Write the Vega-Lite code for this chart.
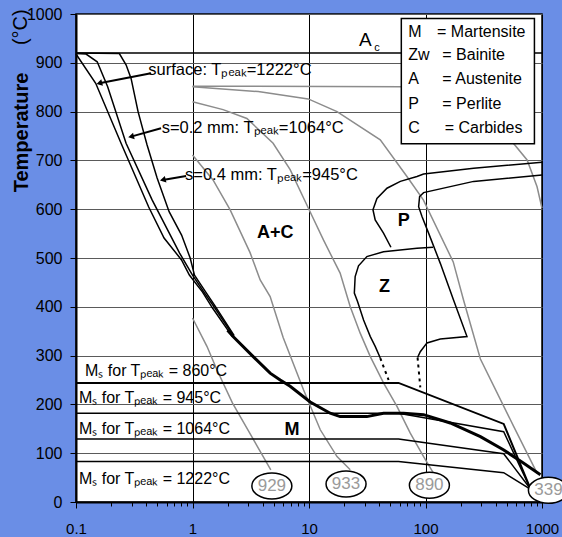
{
  "$schema": "https://vega.github.io/schema/vega-lite/v6.json",
  "width": 466,
  "height": 488,
  "autosize": {"type": "none"},
  "padding": {"left": 76, "top": 14, "right": 20, "bottom": 35},
  "background": "#6a8ee6",
  "config": {
    "font": "Liberation Sans",
    "view": {"fill": "white", "stroke": "black", "strokeWidth": 1.5},
    "axis": {"labelFont": "Liberation Sans", "titleFont": "Liberation Sans", "labelColor": "black", "tickColor": "black", "domainColor": "black"}
  },
  "datasets": {
    "gray": [
      {"id": "g1", "o": 1, "x": 1, "T": 377}, {"id": "g1", "o": 2, "x": 1.33, "T": 319}, {"id": "g1", "o": 3, "x": 1.62, "T": 271}, {"id": "g1", "o": 4, "x": 2.2, "T": 203}, {"id": "g1", "o": 5, "x": 3.6, "T": 114}, {"id": "g1", "o": 6, "x": 4.7, "T": 66},
      {"id": "g2", "o": 1, "x": 1, "T": 711}, {"id": "g2", "o": 2, "x": 1.5, "T": 660}, {"id": "g2", "o": 3, "x": 2.1, "T": 599}, {"id": "g2", "o": 4, "x": 3.12, "T": 511}, {"id": "g2", "o": 5, "x": 3.81, "T": 455}, {"id": "g2", "o": 6, "x": 4.64, "T": 421}, {"id": "g2", "o": 7, "x": 6.0, "T": 337}, {"id": "g2", "o": 8, "x": 8.97, "T": 230}, {"id": "g2", "o": 9, "x": 12.5, "T": 148}, {"id": "g2", "o": 10, "x": 17.4, "T": 93}, {"id": "g2", "o": 11, "x": 22.6, "T": 66},
      {"id": "g3", "o": 1, "x": 1, "T": 820}, {"id": "g3", "o": 2, "x": 1.83, "T": 804}, {"id": "g3", "o": 3, "x": 2.93, "T": 786}, {"id": "g3", "o": 4, "x": 4.92, "T": 735}, {"id": "g3", "o": 5, "x": 6.89, "T": 681}, {"id": "g3", "o": 6, "x": 9.84, "T": 603}, {"id": "g3", "o": 7, "x": 13.3, "T": 537}, {"id": "g3", "o": 8, "x": 18.5, "T": 469}, {"id": "g3", "o": 9, "x": 22.6, "T": 400}, {"id": "g3", "o": 10, "x": 27.5, "T": 346}, {"id": "g3", "o": 11, "x": 33.6, "T": 298}, {"id": "g3", "o": 12, "x": 43.6, "T": 244}, {"id": "g3", "o": 13, "x": 56.9, "T": 196}, {"id": "g3", "o": 14, "x": 74, "T": 141}, {"id": "g3", "o": 15, "x": 96.3, "T": 93}, {"id": "g3", "o": 16, "x": 117, "T": 59},
      {"id": "g4", "o": 1, "x": 1, "T": 851}, {"id": "g4", "o": 2, "x": 3.66, "T": 841}, {"id": "g4", "o": 3, "x": 9.84, "T": 826}, {"id": "g4", "o": 4, "x": 17.4, "T": 800}, {"id": "g4", "o": 5, "x": 40.9, "T": 742}, {"id": "g4", "o": 6, "x": 69.3, "T": 667}, {"id": "g4", "o": 7, "x": 95.8, "T": 619}, {"id": "g4", "o": 8, "x": 173, "T": 492}, {"id": "g4", "o": 9, "x": 212, "T": 414}, {"id": "g4", "o": 10, "x": 296, "T": 293}, {"id": "g4", "o": 11, "x": 571, "T": 155}, {"id": "g4", "o": 12, "x": 907, "T": 59},
      {"id": "g5", "o": 1, "x": 1, "T": 852}, {"id": "g5", "o": 2, "x": 63, "T": 851}, {"id": "g5", "o": 3, "x": 150, "T": 845}, {"id": "g5", "o": 4, "x": 300, "T": 820}, {"id": "g5", "o": 5, "x": 450, "T": 780}, {"id": "g5", "o": 6, "x": 568, "T": 735}, {"id": "g5", "o": 7, "x": 745, "T": 701}, {"id": "g5", "o": 8, "x": 907, "T": 646}, {"id": "g5", "o": 9, "x": 1000, "T": 602}
    ],
    "cct": [
      {"id": "c1", "o": 1, "x": 0.1, "T": 918}, {"id": "c1", "o": 2, "x": 0.1476, "T": 858}, {"id": "c1", "o": 3, "x": 0.2437, "T": 735}, {"id": "c1", "o": 4, "x": 0.4197, "T": 605}, {"id": "c1", "o": 5, "x": 0.57, "T": 541}, {"id": "c1", "o": 6, "x": 0.805, "T": 496}, {"id": "c1", "o": 7, "x": 0.94, "T": 465}, {"id": "c1", "o": 8, "x": 1.22, "T": 430}, {"id": "c1", "o": 9, "x": 1.48, "T": 398}, {"id": "c1", "o": 10, "x": 2.2, "T": 339},
      {"id": "c2", "o": 1, "x": 0.1, "T": 919}, {"id": "c2", "o": 2, "x": 0.122, "T": 918}, {"id": "c2", "o": 3, "x": 0.152, "T": 902}, {"id": "c2", "o": 4, "x": 0.187, "T": 851}, {"id": "c2", "o": 5, "x": 0.269, "T": 735}, {"id": "c2", "o": 6, "x": 0.45, "T": 619}, {"id": "c2", "o": 7, "x": 0.775, "T": 510}, {"id": "c2", "o": 8, "x": 1.0, "T": 465}, {"id": "c2", "o": 9, "x": 1.27, "T": 428}, {"id": "c2", "o": 10, "x": 1.53, "T": 400}, {"id": "c2", "o": 11, "x": 2.25, "T": 340},
      {"id": "c3", "o": 1, "x": 0.1, "T": 920}, {"id": "c3", "o": 2, "x": 0.2355, "T": 919}, {"id": "c3", "o": 3, "x": 0.269, "T": 896}, {"id": "c3", "o": 4, "x": 0.297, "T": 868}, {"id": "c3", "o": 5, "x": 0.341, "T": 800}, {"id": "c3", "o": 6, "x": 0.407, "T": 732}, {"id": "c3", "o": 7, "x": 0.497, "T": 664}, {"id": "c3", "o": 8, "x": 0.63, "T": 595}, {"id": "c3", "o": 9, "x": 0.806, "T": 547}, {"id": "c3", "o": 10, "x": 0.955, "T": 500}, {"id": "c3", "o": 11, "x": 1.04, "T": 465}, {"id": "c3", "o": 12, "x": 1.3, "T": 430}, {"id": "c3", "o": 13, "x": 1.56, "T": 402}, {"id": "c3", "o": 14, "x": 2.28, "T": 341},
      {"id": "ps", "o": 1, "x": 1000, "T": 696}, {"id": "ps", "o": 2, "x": 259, "T": 684}, {"id": "ps", "o": 3, "x": 96.3, "T": 672}, {"id": "ps", "o": 4, "x": 84.5, "T": 667}, {"id": "ps", "o": 5, "x": 60.8, "T": 657}, {"id": "ps", "o": 6, "x": 46.7, "T": 643}, {"id": "ps", "o": 7, "x": 38.3, "T": 622}, {"id": "ps", "o": 8, "x": 35.4, "T": 599}, {"id": "ps", "o": 9, "x": 37.0, "T": 578}, {"id": "ps", "o": 10, "x": 43.6, "T": 551}, {"id": "ps", "o": 11, "x": 50.5, "T": 522},
      {"id": "pe", "o": 1, "x": 1000, "T": 670}, {"id": "pe", "o": 2, "x": 259, "T": 657}, {"id": "pe", "o": 3, "x": 96.3, "T": 634}, {"id": "pe", "o": 4, "x": 89, "T": 626}, {"id": "pe", "o": 5, "x": 87.3, "T": 605}, {"id": "pe", "o": 6, "x": 93.3, "T": 585}, {"id": "pe", "o": 7, "x": 106.3, "T": 551}, {"id": "pe", "o": 8, "x": 134, "T": 489}, {"id": "pe", "o": 9, "x": 174, "T": 414}, {"id": "pe", "o": 10, "x": 227, "T": 339}, {"id": "pe", "o": 11, "x": 134, "T": 334}, {"id": "pe", "o": 12, "x": 103, "T": 326}, {"id": "pe", "o": 13, "x": 90.2, "T": 308}, {"id": "pe", "o": 14, "x": 85.5, "T": 296},
      {"id": "zs", "o": 1, "x": 116, "T": 522}, {"id": "zs", "o": 2, "x": 84.5, "T": 520}, {"id": "zs", "o": 3, "x": 43.6, "T": 513}, {"id": "zs", "o": 4, "x": 31.4, "T": 503}, {"id": "zs", "o": 5, "x": 26.6, "T": 484}, {"id": "zs", "o": 6, "x": 24.9, "T": 462}, {"id": "zs", "o": 7, "x": 24.5, "T": 428}, {"id": "zs", "o": 8, "x": 26.1, "T": 411}, {"id": "zs", "o": 9, "x": 29.4, "T": 373}, {"id": "zs", "o": 10, "x": 33.6, "T": 339}, {"id": "zs", "o": 11, "x": 37, "T": 319}, {"id": "zs", "o": 12, "x": 40.9, "T": 295},
      {"id": "m860", "o": 1, "x": 0.1, "T": 244}, {"id": "m860", "o": 2, "x": 58.7, "T": 244}, {"id": "m860", "o": 3, "x": 469, "T": 160}, {"id": "m860", "o": 4, "x": 800, "T": 26},
      {"id": "m945", "o": 1, "x": 0.1, "T": 182}, {"id": "m945", "o": 2, "x": 58.7, "T": 182}, {"id": "m945", "o": 3, "x": 469, "T": 144}, {"id": "m945", "o": 4, "x": 800, "T": 26},
      {"id": "m1064", "o": 1, "x": 0.1, "T": 129}, {"id": "m1064", "o": 2, "x": 58.7, "T": 129}, {"id": "m1064", "o": 3, "x": 469, "T": 99}, {"id": "m1064", "o": 4, "x": 800, "T": 26},
      {"id": "m1222", "o": 1, "x": 0.1, "T": 83}, {"id": "m1222", "o": 2, "x": 58.7, "T": 83}, {"id": "m1222", "o": 3, "x": 469, "T": 60}, {"id": "m1222", "o": 4, "x": 800, "T": 26},
      {"id": "ac", "o": 1, "x": 0.1, "T": 920}, {"id": "ac", "o": 2, "x": 1000, "T": 920}
    ],
    "tail": [
      {"o": 1, "x": 2.0, "T": 352}, {"o": 2, "x": 2.23, "T": 339}, {"o": 3, "x": 3.32, "T": 298}, {"o": 4, "x": 4.64, "T": 264}, {"o": 5, "x": 5.66, "T": 250}, {"o": 6, "x": 6.89, "T": 237}, {"o": 7, "x": 10.24, "T": 205}, {"o": 8, "x": 15.2, "T": 182}, {"o": 9, "x": 18.5, "T": 175}, {"o": 10, "x": 31.4, "T": 175}, {"o": 11, "x": 43.6, "T": 182}, {"o": 12, "x": 64.9, "T": 182}, {"o": 13, "x": 96.3, "T": 179}, {"o": 14, "x": 163, "T": 162}, {"o": 15, "x": 296, "T": 134}, {"o": 16, "x": 466, "T": 107}, {"o": 17, "x": 692, "T": 80}, {"o": 18, "x": 969, "T": 56}
    ],
    "dots": [
      {"id": "d1", "o": 1, "x": 40.9, "T": 295}, {"id": "d1", "o": 2, "x": 48.2, "T": 250},
      {"id": "d2", "o": 1, "x": 85.5, "T": 296}, {"id": "d2", "o": 2, "x": 90.2, "T": 235}
    ],
    "box": [{"x": 62, "T": 991, "x2": 861, "T2": 734}],
    "legend": [
      {"x": 71.2, "T": 964, "text": "M"}, {"x": 71.2, "T": 916, "text": "Zw"}, {"x": 71.2, "T": 866, "text": "A"}, {"x": 71.2, "T": 816, "text": "P"}, {"x": 71.2, "T": 766, "text": "C"},
      {"x": 125.6, "T": 964, "text": "= Martensite"}, {"x": 139.4, "T": 916, "text": "= Bainite"}, {"x": 139.4, "T": 866, "text": "= Austenite"}, {"x": 139.4, "T": 816, "text": "= Perlite"}, {"x": 146, "T": 766, "text": "= Carbides"}
    ],
    "regions": [
      {"x": 5.12, "T": 551, "text": "A+C"}, {"x": 64.9, "T": 575, "text": "P"}, {"x": 44.5, "T": 441, "text": "Z"}, {"x": 7.13, "T": 148, "text": "M"}
    ],
    "notes": [
      {"x": 0.1195, "T": 267.5, "text": "Mₛ for Tₚₑₐₖ = 860°C"},
      {"x": 0.106, "T": 213, "text": "Mₛ for Tₚₑₐₖ = 945°C"},
      {"x": 0.106, "T": 149.5, "text": "Mₛ for Tₚₑₐₖ = 1064°C"},
      {"x": 0.106, "T": 47, "text": "Mₛ for Tₚₑₐₖ = 1222°C"}
    ],
    "arrowNotes": [
      {"x": 0.418, "T": 885.5, "text": "surface: Tₚₑₐₖ=1222°C"},
      {"x": 0.544, "T": 766, "text": "s=0.2 mm: Tₚₑₐₖ=1064°C"},
      {"x": 0.863, "T": 670, "text": "s=0.4 mm: Tₚₑₐₖ=945°C"}
    ],
    "arrows": [
      {"x": 0.4406, "T": 878.6, "x2": 0.1585, "T2": 858},
      {"x": 0.537, "T": 766, "x2": 0.297, "T2": 748.7},
      {"x": 0.881, "T": 668, "x2": 0.556, "T2": 660}
    ],
    "heads": [
      {"x": 0.1585, "T": 858}, {"x": 0.297, "T": 748.7}, {"x": 0.556, "T": 660}
    ],
    "ovals": [
      {"x": 4.8, "T": 33, "text": "929"}, {"x": 20.8, "T": 37, "text": "933"}, {"x": 108, "T": 34.4, "text": "890"}, {"x": 1135, "T": 24, "text": "339"}
    ]
  },
  "encoding": {
    "x": {
      "field": "x", "type": "quantitative",
      "scale": {"type": "log", "domain": [0.1, 1000], "nice": false},
      "axis": {
        "title": null,
        "values": [0.1, 0.2, 0.3, 0.4, 0.5, 0.6, 0.7, 0.8, 0.9, 1, 2, 3, 4, 5, 6, 7, 8, 9, 10, 20, 30, 40, 50, 60, 70, 80, 90, 100, 200, 300, 400, 500, 600, 700, 800, 900, 1000],
        "labelExpr": "abs(log(datum.value)/LN10 - round(log(datum.value)/LN10)) < 0.001 ? format(datum.value, '~g') : ''",
        "labelFontSize": 15,
        "labelPadding": 13,
        "labelFlush": false,
        "labelOverlap": false,
        "tickSize": {"condition": {"test": "abs(log(datum.value)/LN10 - round(log(datum.value)/LN10)) < 0.001", "value": 6}, "value": 4},
        "tickWidth": 1,
        "grid": true,
        "gridColor": "black",
        "gridWidth": 1,
        "gridOpacity": {"condition": {"test": "abs(log(datum.value)/LN10 - round(log(datum.value)/LN10)) < 0.001", "value": 1}, "value": 0},
        "domainWidth": 2
      }
    },
    "y": {
      "field": "T", "type": "quantitative",
      "scale": {"domain": [0, 1000], "nice": false},
      "axis": {
        "title": "Temperature",
        "values": [0, 100, 200, 300, 400, 500, 600, 700, 800, 900, 1000],
        "format": "d",
        "labelFontSize": 16,
        "labelPadding": 8,
        "labelFlush": false,
        "tickSize": 6,
        "grid": true,
        "gridColor": "#5a5a5a",
        "gridWidth": 1,
        "domainWidth": 2,
        "titleFontSize": 20,
        "titleFontWeight": "bold",
        "titleColor": "black",
        "titleAngle": 270,
        "titleX": -55,
        "titleY": 118,
        "titleAlign": "center",
        "titleBaseline": "middle"
      }
    }
  },
  "layer": [
    {"data": {"name": "gray"}, "mark": {"type": "line", "color": "#8c8c8c", "strokeWidth": 1.5}, "encoding": {"detail": {"field": "id"}, "order": {"field": "o"}}},
    {"data": {"name": "cct"}, "mark": {"type": "line", "color": "black"}, "encoding": {"detail": {"field": "id"}, "order": {"field": "o"}, "strokeWidth": {"condition": {"test": "datum.id === 'm860'", "value": 2}, "value": 1.5}}},
    {"data": {"name": "tail"}, "mark": {"type": "line", "color": "black", "strokeWidth": 3}, "encoding": {"order": {"field": "o"}}},
    {"data": {"name": "dots"}, "mark": {"type": "line", "color": "black", "strokeWidth": 2, "strokeDash": [3, 4]}, "encoding": {"detail": {"field": "id"}, "order": {"field": "o"}}},
    {"data": {"name": "box"}, "mark": {"type": "rect", "fill": "white", "stroke": "black", "strokeWidth": 1.5}, "encoding": {"x2": {"field": "x2"}, "y2": {"field": "T2"}}},
    {"data": {"name": "legend"}, "mark": {"type": "text", "align": "left", "baseline": "middle", "fontSize": 16, "color": "black"}, "encoding": {"text": {"field": "text"}}},
    {"data": {"name": "regions"}, "mark": {"type": "text", "align": "center", "baseline": "middle", "fontSize": 18, "fontWeight": "bold", "color": "black"}, "encoding": {"text": {"field": "text"}}},
    {"data": {"name": "notes"}, "mark": {"type": "text", "align": "left", "baseline": "middle", "fontSize": 16, "color": "black"}, "encoding": {"text": {"field": "text"}}},
    {"data": {"name": "arrowNotes"}, "mark": {"type": "text", "align": "left", "baseline": "middle", "fontSize": 16.5, "color": "black"}, "encoding": {"text": {"field": "text"}}},
    {"data": {"values": [{"x": 30.4, "T": 947, "text": "A"}]}, "mark": {"type": "text", "align": "center", "baseline": "middle", "fontSize": 19, "color": "black"}, "encoding": {"text": {"field": "text"}}},
    {"data": {"values": [{"x": 38.3, "T": 930, "text": "c"}]}, "mark": {"type": "text", "align": "center", "baseline": "middle", "fontSize": 11, "color": "black"}, "encoding": {"text": {"field": "text"}}},
    {"data": {"name": "arrows"}, "mark": {"type": "rule", "color": "black", "strokeWidth": 2}, "encoding": {"x2": {"field": "x2"}, "y2": {"field": "T2"}}},
    {"data": {"name": "heads"}, "mark": {"type": "point", "shape": "triangle-left", "filled": true, "color": "black", "size": 45, "angle": 346, "opacity": 1}},
    {"data": {"name": "ovals"}, "mark": {"type": "point", "shape": "M-1,0A1,0.65,0,1,1,1,0A1,0.65,0,1,1,-1,0Z", "size": 1600, "filled": false, "fill": "white", "fillOpacity": 1, "stroke": "black", "strokeWidth": 1.5, "opacity": 1}},
    {"data": {"name": "ovals"}, "mark": {"type": "text", "align": "center", "baseline": "middle", "fontSize": 17, "color": "#9a9a9a"}, "encoding": {"text": {"field": "text"}}},
    {"data": {"values": [{"x": 0.1, "T": 973, "text": "(°C)"}]}, "mark": {"type": "text", "align": "center", "baseline": "middle", "fontSize": 20, "angle": 270, "dy": -55, "color": "black"}, "encoding": {"text": {"field": "text"}}}
  ]
}
